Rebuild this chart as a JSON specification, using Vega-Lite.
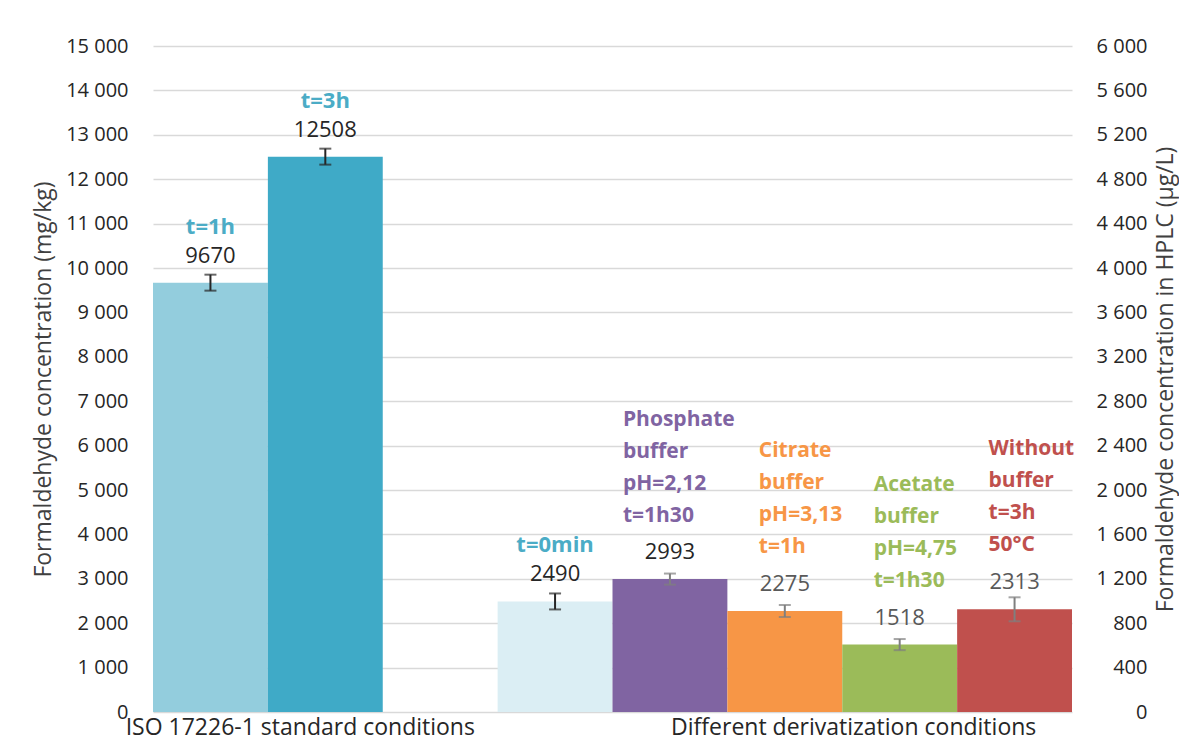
{
  "$schema": "https://vega.github.io/schema/vega-lite/v6.json",
  "width": 919,
  "height": 666,
  "autosize": "none",
  "padding": {"left": 153, "top": 46, "right": 107, "bottom": 39},
  "background": "white",
  "config": {"view": {"stroke": null}, "font": "Open Sans"},
  "data": {"values": [
    {"cond": "t1", "group": "ISO", "value": 9670, "err": 180, "label": "t=1h"},
    {"cond": "t3", "group": "ISO", "value": 12508, "err": 180, "label": "t=3h"},
    {"cond": "t0", "group": "Diff", "value": 2490, "err": 180, "label": "t=0min"},
    {"cond": "phos", "group": "Diff", "value": 2993, "err": 125, "label": "Phosphate\nbuffer\npH=2,12\nt=1h30"},
    {"cond": "cit", "group": "Diff", "value": 2275, "err": 135, "label": "Citrate\nbuffer\npH=3,13\nt=1h"},
    {"cond": "ace", "group": "Diff", "value": 1518, "err": 125, "label": "Acetate\nbuffer\npH=4,75\nt=1h30"},
    {"cond": "without", "group": "Diff", "value": 2313, "err": 270, "label": "Without\nbuffer\nt=3h\n50°C"}
  ]},
  "layer": [
    {
      "encoding": {
        "x": {"field": "cond", "type": "nominal", "axis": null,
              "scale": {"domain": ["t1", "t3", "gap", "t0", "phos", "cit", "ace", "without"], "paddingInner": 0, "paddingOuter": 0}}
      },
      "layer": [
        {
          "mark": {"type": "bar"},
          "encoding": {
            "y": {"field": "value", "type": "quantitative", "title": "Formaldehyde concentration (mg/kg)",
                  "scale": {"domain": [0, 15000], "nice": false},
                  "axis": {"values": [0,1000,2000,3000,4000,5000,6000,7000,8000,9000,10000,11000,12000,13000,14000,15000],
                           "labelExpr": "replace(format(datum.value, ','), ',', ' ')",
                           "grid": true, "gridColor": "#d9d9d9", "gridWidth": 1.5,
                           "domain": false, "ticks": false, "labelPadding": 25,
                           "labelFontSize": 20, "labelColor": "#262626", "labelFont": "Open Sans",
                           "titleFontSize": 23,
                           "titleFontWeight": "normal", "titleColor": "#404040", "titleFont": "Open Sans",
                           "titlePadding": 10}},
            "color": {"field": "cond", "type": "nominal", "legend": null,
                      "scale": {"domain": ["t1", "t3", "t0", "phos", "cit", "ace", "without"],
                                "range": ["#93CDDD", "#3FAAC7", "#DBEEF4", "#8064A2", "#F79646", "#9BBB59", "#C0504D"]}}
          }
        },
        {
          "mark": {"type": "errorbar", "ticks": {"size": 12}, "thickness": 2},
          "encoding": {
            "y": {"field": "value", "type": "quantitative", "title": "Formaldehyde concentration (mg/kg)"},
            "yError": {"field": "err"},
            "color": {"field": "cond", "type": "nominal", "legend": null,
                      "scale": {"domain": ["t1", "t3", "t0", "phos", "cit", "ace", "without"],
                                "range": ["#262626", "#262626", "#262626", "#7F7F7F", "#7F7F7F", "#7F7F7F", "#7F7F7F"]}}
          }
        },
        {
          "mark": {"type": "text", "baseline": "middle", "dy": -27, "fontSize": 22, "font": "Open Sans"},
          "encoding": {
            "y": {"field": "value", "type": "quantitative", "title": "Formaldehyde concentration (mg/kg)"},
            "text": {"field": "value", "type": "quantitative", "format": "d"},
            "color": {"field": "cond", "type": "nominal", "legend": null,
                      "scale": {"domain": ["t1", "t3", "t0", "phos", "cit", "ace", "without"],
                                "range": ["#262626", "#262626", "#262626", "#262626", "#595959", "#595959", "#595959"]}}
          }
        },
        {
          "transform": [{"filter": "indexof(['t1','t3','t0'], datum.cond) >= 0"}],
          "mark": {"type": "text", "baseline": "bottom", "dy": -44, "fontSize": 22, "fontWeight": "bold", "font": "Open Sans", "color": "#4BACC6"},
          "encoding": {
            "y": {"field": "value", "type": "quantitative", "title": "Formaldehyde concentration (mg/kg)"},
            "text": {"field": "label"}
          }
        },
        {
          "transform": [{"filter": "datum.cond == 'phos'"}],
          "mark": {"type": "text", "baseline": "bottom", "align": "left", "lineBreak": "\n", "lineHeight": 32, "dx": -47, "dy": -149, "fontSize": 21, "fontWeight": "bold", "font": "Open Sans", "color": "#8064A2"},
          "encoding": {
            "y": {"field": "value", "type": "quantitative", "title": "Formaldehyde concentration (mg/kg)"},
            "text": {"field": "label"}
          }
        },
        {
          "transform": [{"filter": "indexof(['cit','ace','without'], datum.cond) >= 0"}],
          "mark": {"type": "text", "baseline": "bottom", "align": "left", "lineBreak": "\n", "lineHeight": 32, "dx": -26, "dy": -150, "fontSize": 21, "fontWeight": "bold", "font": "Open Sans"},
          "encoding": {
            "y": {"field": "value", "type": "quantitative", "title": "Formaldehyde concentration (mg/kg)"},
            "text": {"field": "label"},
            "color": {"field": "cond", "type": "nominal", "legend": null,
                      "scale": {"domain": ["cit", "ace", "without"],
                                "range": ["#F79646", "#9BBB59", "#C0504D"]}}
          }
        },
        {
          "transform": [{"filter": "datum.cond == 't3'"}],
          "mark": {"type": "text", "baseline": "middle", "align": "center", "dx": -25, "dy": 16, "fontSize": 23, "font": "Open Sans", "color": "#262626"},
          "encoding": {
            "y": {"datum": 0, "type": "quantitative", "title": "Formaldehyde concentration (mg/kg)"},
            "text": {"value": "ISO 17226-1 standard conditions"}
          }
        },
        {
          "transform": [{"filter": "datum.cond == 'ace'"}],
          "mark": {"type": "text", "baseline": "middle", "align": "center", "dx": -46, "dy": 16, "fontSize": 23, "font": "Open Sans", "color": "#262626"},
          "encoding": {
            "y": {"datum": 0, "type": "quantitative", "title": "Formaldehyde concentration (mg/kg)"},
            "text": {"value": "Different derivatization conditions"}
          }
        }
      ],
      "resolve": {"scale": {"color": "independent"}}
    },
    {
      "transform": [{"filter": "datum.cond == 't1'"}],
      "mark": {"type": "rule", "opacity": 0},
      "encoding": {
        "y": {"datum": 0, "type": "quantitative",
              "scale": {"domain": [0, 6000], "nice": false},
              "axis": {"orient": "right",
                       "values": [0,400,800,1200,1600,2000,2400,2800,3200,3600,4000,4400,4800,5200,5600,6000],
                       "labelExpr": "replace(format(datum.value, ','), ',', ' ')",
                       "grid": false, "domain": false, "ticks": false,
                       "labelAlign": "right", "labelPadding": 75,
                       "labelFontSize": 20, "labelColor": "#262626", "labelFont": "Open Sans",
                       "title": "Formaldehyde concentration in HPLC (µg/L)", "titleFontSize": 23,
                       "titleAngle": 270, "titleFontWeight": "normal", "titleColor": "#404040", "titleFont": "Open Sans",
                       "titlePadding": 30}}
      }
    }
  ],
  "resolve": {"scale": {"y": "independent"}}
}
